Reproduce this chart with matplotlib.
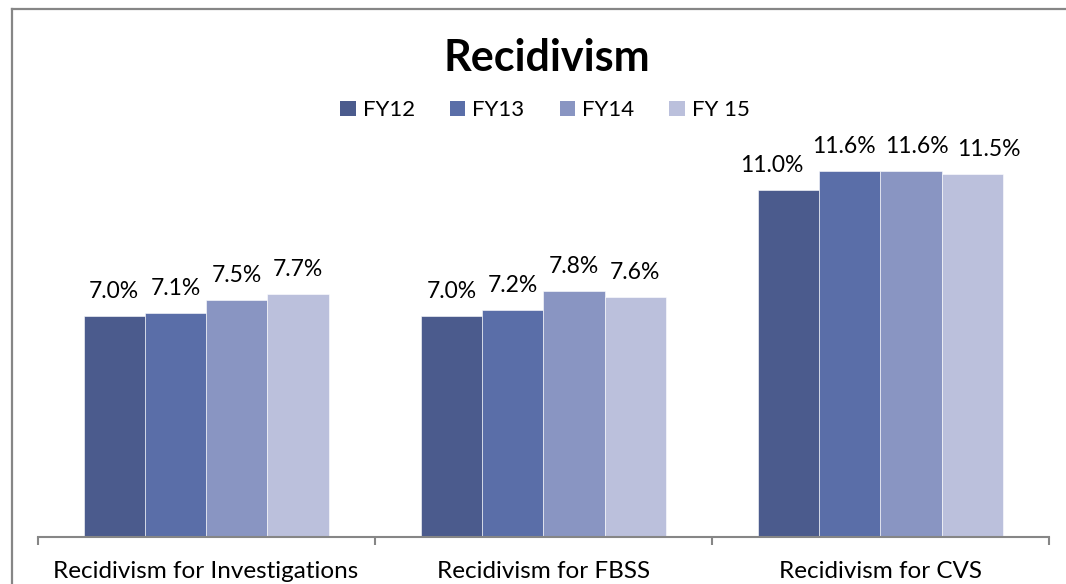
import matplotlib
matplotlib.use("Agg")
import matplotlib.pyplot as plt
from matplotlib.patches import Patch
from matplotlib.lines import Line2D
import numpy as np

categories = ["Recidivism for Investigations", "Recidivism for FBSS", "Recidivism for CVS"]
series_names = ["FY12", "FY13", "FY14", "FY 15"]
fy12 = [7.0, 7.0, 11.0]
fy13 = [7.1, 7.2, 11.6]
fy14 = [7.5, 7.8, 11.6]
fy15 = [7.7, 7.6, 11.5]
series_values = [fy12, fy13, fy14, fy15]
colors = ["#4B5B8D", "#5A6EA8", "#8995C2", "#BBC0DC"]

plt.rcParams['font.family'] = ['Lato', 'DejaVu Sans']

W, H = 1066, 584
DPI = 100
fig = plt.figure(figsize=(W / DPI, H / DPI), dpi=DPI)

# outer chart border (only top and left edges visible in the crop)
bx, by = 11.5 / W, 1 - 8.5 / H
fig.add_artist(Line2D([bx, 1.0], [by, by], transform=fig.transFigure, color="#868686", lw=1.6))
fig.add_artist(Line2D([bx, bx], [0.0, by], transform=fig.transFigure, color="#868686", lw=1.6))

ax_left, ax_right = 37.5, 1049
ax_bottom_px = 537
ymax = 12.0
px_per_unit = 31.57
ax_h = ymax * px_per_unit
ax = fig.add_axes([ax_left / W, (H - ax_bottom_px) / H, (ax_right - ax_left) / W, ax_h / H])

x = np.arange(len(categories))
bw = 0.1817
label_offset_pt = 13
labels_by_group = [[] for _ in categories]
for i, (name, vals, c) in enumerate(zip(series_names, series_values, colors)):
    pos = x + (i - 1.5) * bw
    bars = ax.bar(pos, vals, width=bw, color=c, edgecolor="white", linewidth=0.4, label=name, zorder=2)
    for g, (b, v) in enumerate(zip(bars, vals)):
        t = ax.annotate(f"{v:.1f}%", (b.get_x() + b.get_width() / 2, v), xytext=(0, label_offset_pt),
                        textcoords="offset points", ha="center", va="baseline", fontsize=16.5,
                        color="#000000")
        labels_by_group[g].append(t)

ax.set_xlim(-0.5, len(categories) - 0.5)
ax.set_ylim(0, ymax)
for s in ["top", "right", "left"]:
    ax.spines[s].set_visible(False)
ax.spines["bottom"].set_color("#868686")
ax.spines["bottom"].set_linewidth(1.5)
ax.set_yticks([])
ax.set_xticks(x)
ax.set_xticklabels(categories, fontsize=17.5)
ax.tick_params(axis="x", which="major", length=0, pad=17)
ax.set_xticks(np.arange(len(categories) + 1) - 0.5, minor=True)
ax.tick_params(axis="x", which="minor", length=6, width=1.5, color="#868686")

fig.text(547 / W, 1 - 58 / H, "Recidivism", ha="center", va="center", fontsize=31,
         fontweight="bold")

handles = [Patch(facecolor=c, edgecolor="none") for c in colors]
fig.legend(handles, series_names, loc="center", bbox_to_anchor=(545 / W, 1 - 110 / H),
           ncol=4, frameon=False, fontsize=16, handlelength=0.68, handleheight=0.68,
           handletextpad=0.32, columnspacing=1.59)

# nudge overlapping data labels apart horizontally (like the spreadsheet renderer does)
fig.canvas.draw()
renderer = fig.canvas.get_renderer()
min_gap = 9.0  # px
for texts in labels_by_group:
    ext = [t.get_window_extent(renderer) for t in texts]
    centers = [(e.x0 + e.x1) / 2 for e in ext]
    widths = [e.width for e in ext]
    shifts = [0.0] * len(texts)
    for _ in range(200):
        moved = False
        for k in range(len(texts) - 1):
            right_a = centers[k] + shifts[k] + widths[k] / 2
            left_b = centers[k + 1] + shifts[k + 1] - widths[k + 1] / 2
            ov = right_a + min_gap - left_b
            if ov > 0.01:
                shifts[k] -= ov / 2
                shifts[k + 1] += ov / 2
                moved = True
        if not moved:
            break
    for t, s in zip(texts, shifts):
        t.set_position((s * 72 / DPI, label_offset_pt))

fig.savefig("out.png", dpi=DPI)
